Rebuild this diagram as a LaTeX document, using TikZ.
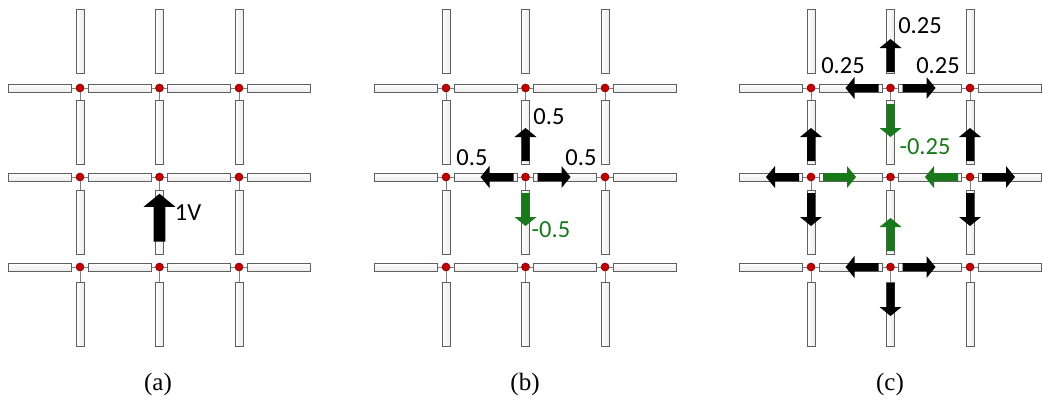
\documentclass[tikz,border=0pt]{standalone}
\usepackage{fontspec}
\setmainfont{Liberation Serif}
\newfontfamily\lblfont{Carlito}
\usepackage{tikz}
\usetikzlibrary{calc}
\usepackage{xcolor}
\definecolor{dotred}{RGB}{192,0,0}
\definecolor{flowgreen}{RGB}{25,120,25}
\definecolor{wiregray}{RGB}{128,128,128}

\begin{document}
\begin{tikzpicture}[x=1pt,y=-1pt,
  dot/.style={circle,fill=dotred,draw=dotred!70!black,line width=0.6pt,inner sep=0pt,minimum size=8pt},
  hres/.style={rectangle,draw=gray!75!black,top color=white,bottom color=gray!15,line width=0.8pt,inner sep=0pt,minimum width=63pt,minimum height=8pt},
  vres/.style={rectangle,draw=gray!75!black,left color=white,right color=gray!15,line width=0.8pt,inner sep=0pt,minimum width=8pt,minimum height=64pt},
  wire/.style={draw=wiregray,line width=0.8pt},
  lbl/.style={font=\lblfont\fontsize{24.5}{28}\selectfont,inner sep=0pt},
  captxt/.style={font=\fontsize{25}{30}\selectfont,inner sep=0pt},
  flow off/.store in=\flowoff, flow off=12,
  flow/.pic={\path[pic actions] (\flowoff,-4) -- ++(24,0) -- ++(0,-7) -- ++(9,11) -- ++(-9,11) -- ++(0,-7) -- ++(-24,0) -- cycle;}]
\useasboundingbox (0,0) rectangle (1042,399);
% three copies of the grid
\foreach \p/\ox in {a/0,b/366,c/731}{
  \foreach \i in {1,2,3}
    \foreach \j/\y in {1/88,2/177,3/267}
      \node[dot] (\p-\i-\j) at ({\ox+0.5+79.5*\i},\y) {};
  \foreach \j/\y in {1/88,2/177,3/267}
    \foreach \k in {0,...,3}
      \node[hres] (\p-h-\j-\k) at ({\ox+40.25+79.5*\k},\y) {};
  \foreach \i in {1,2,3}
    \foreach \k/\cy in {0/41.5,1/132.5,2/222,3/314}
      \node[vres] (\p-v-\i-\k) at ({\ox+0.5+79.5*\i},\cy) {};
  \foreach \i [evaluate=\i as \im using int(\i-1)] in {1,2,3}
    \foreach \j [evaluate=\j as \jm using int(\j-1)] in {1,2,3}
      \draw[wire] (\p-h-\j-\im) -- (\p-\i-\j) -- (\p-h-\j-\i)
                  (\p-v-\i-\jm) -- (\p-\i-\j) -- (\p-v-\i-\j);
}
% (a)
\pic[rotate=90,scale=1.45,fill=black,flow off=17.5] at (a-2-3) {flow};
\node[lbl] (a-src) at (188,213) {1V};
% (b)
\foreach \a/\c/\o in {90/black/16,180/black/12,0/black/12,-90/flowgreen/16}
  \pic[rotate=\a,fill=\c,flow off=\o] at (b-2-2) {flow};
\node[lbl] (b-up) at (549,117) {0.5};
\node[lbl] (b-left) at (472,158) {0.5};
\node[lbl] (b-right) at (581,158) {0.5};
\node[lbl,text=flowgreen] (b-down) at (551,230) {-0.5};
% (c)
\foreach \n/\a/\c/\o in {c-2-1/90/black/16,c-2-1/180/black/12,c-2-1/0/black/12,c-2-1/-90/flowgreen/16,
    c-1-2/90/black/16,c-1-2/180/black/12,c-1-2/0/flowgreen/12,c-1-2/-90/black/16,
    c-3-2/90/black/16,c-3-2/180/flowgreen/12,c-3-2/0/black/12,c-3-2/-90/black/16,
    c-2-3/90/flowgreen/16,c-2-3/180/black/12,c-2-3/0/black/12,c-2-3/-90/black/16}
  \pic[rotate=\a,fill=\c,flow off=\o] at (\n) {flow};
\node[lbl] (c-up) at (920,26) {0.25};
\node[lbl] (c-left) at (843,66) {0.25};
\node[lbl] (c-right) at (938,66) {0.25};
\node[lbl,text=flowgreen] (c-down) at (925,147) {-0.25};
% captions
\node[captxt] (cap-a) at (158,384) {(a)};
\node[captxt] (cap-b) at (525,384) {(b)};
\node[captxt] (cap-c) at (890,384) {(c)};
\end{tikzpicture}
\end{document}
